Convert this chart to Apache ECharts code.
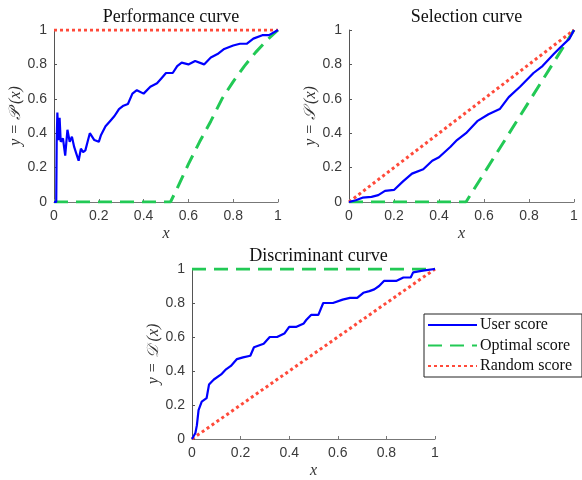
<!DOCTYPE html>
<html>
<head>
<meta charset="utf-8">
<script src="https://cdn.jsdelivr.net/npm/echarts@6/dist/echarts.min.js"></script>
<style>
  html, body { margin: 0; padding: 0; background: #fff; }
  #main { width: 582px; height: 480px; }
</style>
</head>
<body>
<div id="main"></div>
<script>
// Performance curve
var perfUserX = [0, 0.01, 0.012, 0.015, 0.02, 0.025, 0.03, 0.04, 0.05, 0.06, 0.07, 0.08, 0.09, 0.1, 0.11, 0.12, 0.13, 0.14, 0.15, 0.16, 0.18, 0.2, 0.21, 0.23, 0.25, 0.27, 0.28, 0.29, 0.31, 0.33, 0.35, 0.37, 0.4, 0.43, 0.46, 0.48, 0.5, 0.53, 0.55, 0.57, 0.6, 0.63, 0.67, 0.7, 0.73, 0.76, 0.8, 0.83, 0.86, 0.89, 0.93, 0.96, 1];
var perfUserY = [0, 0, 0.35, 0.52, 0.36, 0.49, 0.35, 0.37, 0.27, 0.42, 0.35, 0.38, 0.32, 0.28, 0.24, 0.31, 0.29, 0.30, 0.35, 0.40, 0.36, 0.35, 0.39, 0.44, 0.47, 0.50, 0.52, 0.54, 0.56, 0.57, 0.63, 0.65, 0.63, 0.67, 0.69, 0.72, 0.75, 0.75, 0.79, 0.81, 0.80, 0.82, 0.80, 0.84, 0.86, 0.89, 0.91, 0.92, 0.92, 0.95, 0.97, 0.97, 1];
var perfOptX = [0, 0.52, 0.55, 0.6, 0.65, 0.7, 0.75, 0.8, 0.85, 0.9, 0.95, 1];
var perfOptY = [0, 0, 0.08, 0.22, 0.35, 0.47, 0.6, 0.7, 0.79, 0.87, 0.94, 1];
var perfRandX = [0, 1];
var perfRandY = [1, 1];

// Selection curve
var selUserX = [0, 0.03, 0.06, 0.1, 0.13, 0.16, 0.2, 0.24, 0.28, 0.33, 0.37, 0.4, 0.45, 0.48, 0.52, 0.57, 0.62, 0.67, 0.71, 0.76, 0.82, 0.86, 0.91, 0.94, 0.98, 1];
var selUserY = [0, 0.01, 0.025, 0.03, 0.04, 0.065, 0.07, 0.12, 0.165, 0.19, 0.24, 0.26, 0.32, 0.36, 0.40, 0.47, 0.51, 0.54, 0.61, 0.67, 0.75, 0.79, 0.86, 0.9, 0.95, 1];
var selOptX = [0, 0.52, 1];
var selOptY = [0, 0, 1];
var selRandX = [0, 1];
var selRandY = [0, 1];

// Discriminant curve
var discUserX = [0, 0.014, 0.02, 0.027, 0.04, 0.06, 0.07, 0.09, 0.12, 0.14, 0.16, 0.185, 0.21, 0.24, 0.255, 0.295, 0.32, 0.35, 0.38, 0.40, 0.43, 0.46, 0.47, 0.49, 0.52, 0.54, 0.58, 0.62, 0.65, 0.68, 0.705, 0.73, 0.75, 0.77, 0.79, 0.84, 0.87, 0.9, 0.91, 0.95, 1];
var discUserY = [0, 0.035, 0.08, 0.17, 0.22, 0.24, 0.32, 0.35, 0.38, 0.41, 0.43, 0.47, 0.48, 0.49, 0.54, 0.56, 0.60, 0.60, 0.62, 0.66, 0.66, 0.68, 0.70, 0.73, 0.73, 0.80, 0.80, 0.82, 0.83, 0.83, 0.86, 0.87, 0.88, 0.90, 0.93, 0.93, 0.95, 0.95, 0.98, 0.99, 1];
var discOptX = [0, 1];
var discOptY = [1, 1];
var discRandX = [0, 1];
var discRandY = [0, 1];

var names = ['User score', 'Optimal score', 'Random score'];
var titles = ['Performance curve', 'Selection curve', 'Discriminant curve'];
var yNames = ['y = 𝒫 (x)', 'y = 𝒮 (x)', 'y = 𝒟 (x)'];
var ticks = [0, 0.2, 0.4, 0.6, 0.8, 1];

function pairs(xs, ys) {
  return xs.map(function (x, i) { return [x, ys[i]]; });
}

var serif = 'Liberation Serif';
var sans = 'Liberation Sans';

var grids = [
  {left: 54, top: 30, width: 224, height: 172},
  {left: 349, top: 30, width: 225, height: 172},
  {left: 192, top: 269, width: 243, height: 172}
];

function xAxisFor(i) {
  return {
    type: 'value', gridIndex: i, min: 0, max: 1, interval: 0.2,
    name: 'x', nameLocation: 'middle', nameGap: 24,
    nameTextStyle: {fontFamily: serif, fontStyle: 'italic', fontSize: 16, color: '#333'},
    axisLine: {show: true, onZero: false, lineStyle: {color: '#777', width: 1}},
    axisTick: {show: true, inside: true, length: 3, lineStyle: {color: '#777'}},
    axisLabel: {fontFamily: sans, fontSize: 14, color: '#3a3a3a', margin: 7,
      formatter: function (v) { return ticks.indexOf(v) >= 0 ? String(v) : ''; }},
    splitLine: {show: false}
  };
}
function yAxisFor(i) {
  return {
    type: 'value', gridIndex: i, min: 0, max: 1, interval: 0.2,
    name: yNames[i], nameLocation: 'middle', nameGap: 29, nameRotate: 90,
    nameTextStyle: {fontFamily: serif, fontStyle: 'italic', fontSize: 16, color: '#333'},
    axisLine: {show: true, onZero: false, lineStyle: {color: '#555', width: 1}},
    axisTick: {show: true, inside: true, length: 3, lineStyle: {color: '#555'}},
    axisLabel: {fontFamily: sans, fontSize: 14, color: '#3a3a3a', margin: 7},
    splitLine: {show: false}
  };
}

var styles = [
  {color: '#0000ff', width: 2.2, type: 'solid'},
  {color: '#22c955', width: 3, type: [14, 8]},
  {color: '#ff4a3a', width: 3, type: [3, 3]}
];

var data = [
  [pairs(perfUserX, perfUserY), pairs(perfOptX, perfOptY), pairs(perfRandX, perfRandY)],
  [pairs(selUserX, selUserY), pairs(selOptX, selOptY), pairs(selRandX, selRandY)],
  [pairs(discUserX, discUserY), pairs(discOptX, discOptY), pairs(discRandX, discRandY)]
];

var series = [];
// draw order: optimal, random, user on top
[1, 2, 0].forEach(function (k) {
  for (var g = 0; g < 3; g++) {
    series.push({
      name: names[k], type: 'line', xAxisIndex: g, yAxisIndex: g,
      data: data[g][k], symbol: 'none', animation: false, z: k === 0 ? 5 : 3,
      lineStyle: {color: styles[k].color, width: styles[k].width, type: styles[k].type},
      itemStyle: {color: styles[k].color}
    });
  }
});

var myChart = echarts.init(document.getElementById('main'));
myChart.setOption({
  animation: false,
  title: titles.map(function (t, i) {
    return {
      text: t, left: grids[i].left + grids[i].width / 2, textAlign: 'center',
      top: grids[i].top - 27,
      textStyle: {fontFamily: serif, fontWeight: 'normal', fontSize: 18, color: '#111'}
    };
  }),
  grid: grids,
  xAxis: [xAxisFor(0), xAxisFor(1), xAxisFor(2)],
  yAxis: [yAxisFor(0), yAxisFor(1), yAxisFor(2)],
  legend: {
    data: names, orient: 'vertical', left: 424, top: 314,
    padding: [3, 10, 3, 3], itemGap: 4.5,
    itemWidth: 49, itemHeight: 16,
    borderColor: '#222', borderWidth: 1, backgroundColor: '#fff',
    itemStyle: {color: 'rgba(0,0,0,0)', borderColor: 'rgba(0,0,0,0)', borderWidth: 0},
    textStyle: {fontFamily: serif, fontSize: 16, color: '#111', padding: [0, 0, 0, -2]},
    selectedMode: false
  },
  series: series
});
</script>
</body>
</html>
